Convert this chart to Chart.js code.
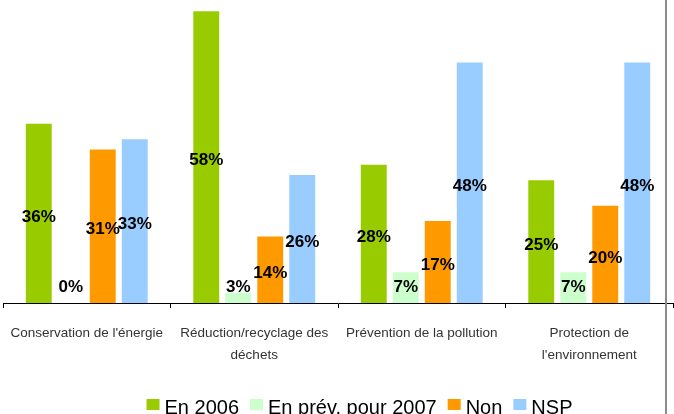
<!DOCTYPE html>
<html lang="fr">
<head>
  <meta charset="UTF-8" />
  <title>Actions environnementales</title>
  <script src="https://cdn.jsdelivr.net/npm/chart.js"></script>
  <style>
    html, body { margin: 0; padding: 0; background: #fff; }
    #wrap { width: 674px; height: 414px; position: relative; }
  </style>
</head>
<body>
  <div id="wrap"><canvas id="envChart"></canvas></div>

  <script>
    const categories = [
      ["Conservation de l'énergie"],
      ["Réduction/recyclage des", "déchets"],
      ["Prévention de la pollution"],
      ["Protection de", "l'environnement"]
    ];
    const seriesNames = ['En 2006', 'En prév. pour 2007', 'Non', 'NSP'];
    const en2006 = [36, 58, 28, 25];
    const enPrev2007 = [0, 3, 7, 7];
    const non = [31, 14, 17, 20];
    const nsp = [33, 26, 48, 48];
    const colors = ['#99cc00', '#ccffcc', '#ff9900', '#99ccff'];

    // etiquettes en % au milieu des barres
    const valueLabels = {
      id: 'valueLabels',
      afterDatasetsDraw(chart) {
        const ctx = chart.ctx;
        const y = chart.scales.y;
        ctx.save();
        ctx.font = 'bold 17px Arial, sans-serif';
        ctx.fillStyle = '#000';
        ctx.textAlign = 'center';
        ctx.textBaseline = 'middle';
        chart.data.datasets.forEach((ds, i) => {
          chart.getDatasetMeta(i).data.forEach((bar, j) => {
            const v = ds.data[j];
            const py = Math.min(y.getPixelForValue(v / 2) + 1, 287);
            ctx.fillText(v + '%', bar.x, py);
          });
        });
        ctx.restore();
      }
    };

    // légende en bas + trait gris à droite
    const bottomLegend = {
      id: 'bottomLegend',
      afterDraw(chart) {
        const ctx = chart.ctx;
        ctx.save();
        ctx.fillStyle = '#8c8c8c';
        ctx.fillRect(665, 0, 2, chart.height);

        ctx.font = '20px Arial, sans-serif';
        ctx.textBaseline = 'alphabetic';
        ctx.textAlign = 'left';
        const box = 13, gapText = 5, gapItem = 11;
        const widths = seriesNames.map(n => ctx.measureText(n).width);
        const total = widths.reduce((a, b) => a + b, 0) + seriesNames.length * (box + gapText) + (seriesNames.length - 1) * gapItem;
        let x = 359.5 - total / 2;
        seriesNames.forEach((n, i) => {
          ctx.fillStyle = colors[i];
          ctx.fillRect(x, 399, box, 11);
          ctx.fillStyle = '#000';
          ctx.fillText(n, x + box + gapText, 414);
          x += box + gapText + widths[i] + gapItem;
        });
        ctx.restore();
      }
    };

    const seriesData = [en2006, enPrev2007, non, nsp];

    new Chart(document.getElementById('envChart'), {
      type: 'bar',
      data: {
        labels: categories,
        datasets: seriesNames.map((n, i) => ({
          label: n,
          data: seriesData[i],
          backgroundColor: colors[i],
          borderWidth: 0,
          categoryPercentage: 0.764,
          barPercentage: 0.81
        }))
      },
      options: {
        responsive: true,
        maintainAspectRatio: false,
        animation: false,
        layout: { padding: { top: 1, left: 3, right: 1, bottom: 0 } },
        scales: {
          x: {
            grid: { display: true, drawOnChartArea: false, drawTicks: true, tickLength: 5, color: '#000', offset: true },
            border: { color: '#000', width: 1 },
            ticks: {
              color: '#333',
              font: { family: 'Arial, sans-serif', size: 13.5, lineHeight: '22px' },
              padding: 14,
              maxRotation: 0,
              autoSkip: false
            },
            afterFit(scale) {
              scale.height = 111;
              scale.paddingLeft = 0;
              scale.paddingRight = 0;
            }
          },
          y: { display: false, min: 1, max: 60 }
        },
        plugins: {
          legend: { display: false },
          tooltip: { enabled: false }
        }
      },
      plugins: [valueLabels, bottomLegend]
    });
  </script>
</body>
</html>
